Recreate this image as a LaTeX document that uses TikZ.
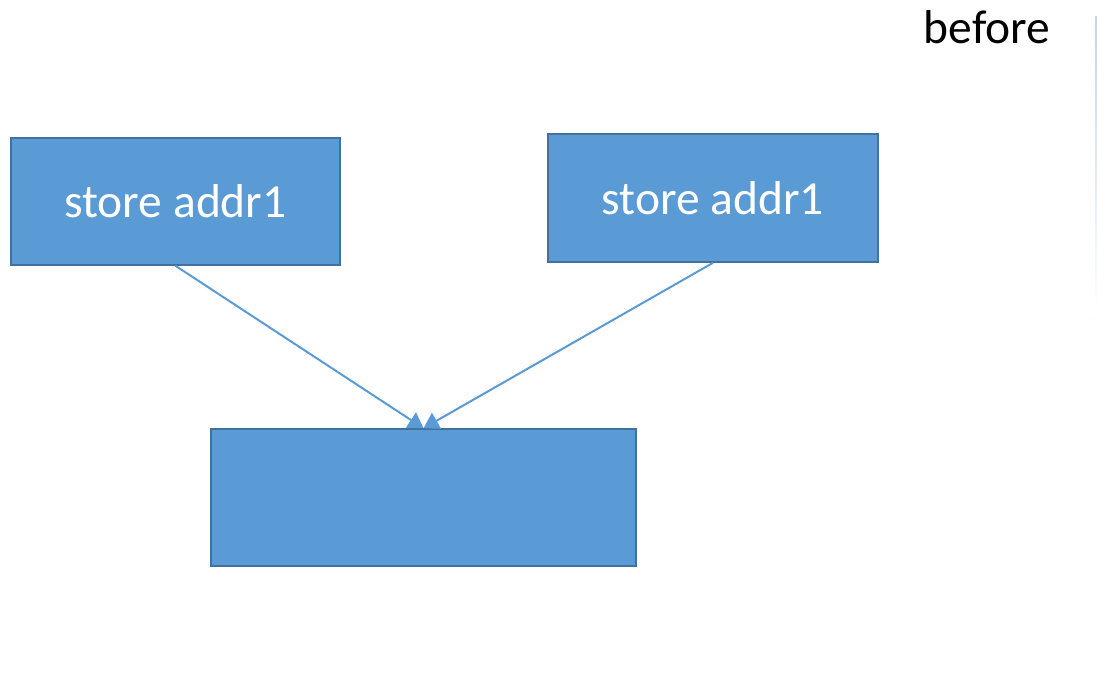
\documentclass[tikz,border=0pt]{standalone}
\usepackage{fontspec}
\setmainfont{Carlito}
\usepackage{xcolor}
\usetikzlibrary{positioning,arrows.meta}
\definecolor{OfficeBlue}{HTML}{5B9BD5}
\definecolor{OfficeEdge}{HTML}{41719C}
\definecolor{PaleBlue}{HTML}{BDD7EE}

\tikzset{
  membox/.style={
    rectangle,
    fill=OfficeBlue,
    draw=OfficeEdge,
    line width=1.6pt,
    text=white,
    font=\fontsize{47.5}{57}\selectfont,
    align=center
  },
  flow/.style={
    draw=OfficeBlue,
    line width=2pt,
    -{Triangle[width=18pt,length=15pt]}
  }
}

\begin{document}
\begin{tikzpicture}[x=1pt,y=-1pt]
    \useasboundingbox (0,0) rectangle (1097,690);

    % label in the corner
    \node[font=\fontsize{47.5}{57}\selectfont, anchor=base] (lbl) at (987,44) {before};

    % two stores feeding one target
    \node[membox, minimum width=329pt, minimum height=127pt] (st1) at (175.5,201.5) {store addr1};
    \node[membox, minimum width=330pt, minimum height=128pt] (st2) at (713,198) {store addr1};
    \node[membox, minimum width=425pt, minimum height=137pt] (dst) at (423.5,497.5) {};

    \draw[flow] (st1.south) -- (dst.north);
    \draw[flow] (st2.south) -- (dst.north);

    % faint edge of the next panel
    \shade[top color=PaleBlue, bottom color=white] (1095,17) rectangle (1097,320);
\end{tikzpicture}
\end{document}
